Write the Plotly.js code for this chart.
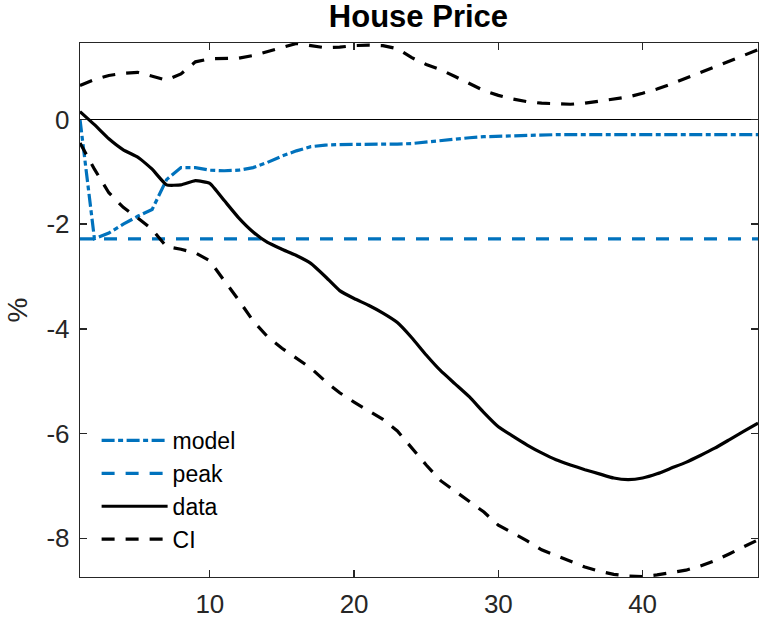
<!DOCTYPE html>
<html>
<head>
<meta charset="utf-8">
<script src="https://cdn.plot.ly/plotly-3.0.1.min.js"></script>
<style>
html,body{margin:0;padding:0;background:#fff;}
#chart{width:766px;height:624px;}
</style>
</head>
<body>
<div id="chart"></div>
<script>
// Horizon (quarters)
const horizon = [1,2,3,4,5,6,7,8,9,10,11,12,13,14,15,16,17,18,19,20,21,22,23,24,25,26,27,28,29,30,31,32,33,34,35,36,37,38,39,40,41,42,43,44,45,46,47,48];

// model impulse response
const modelVals = [0,-2.28,-2.17,-2.0,-1.85,-1.72,-1.15,-0.92,-0.92,-0.97,-0.98,-0.97,-0.92,-0.82,-0.7,-0.6,-0.52,-0.49,-0.48,-0.48,-0.47,-0.47,-0.47,-0.46,-0.43,-0.4,-0.37,-0.35,-0.33,-0.32,-0.31,-0.3,-0.3,-0.29,-0.29,-0.29,-0.29,-0.29,-0.29,-0.29,-0.29,-0.29,-0.29,-0.29,-0.29,-0.29,-0.29,-0.29];

// peak of the model response
const peakX = [1, 48];
const peakVals = [-2.28, -2.28];

// empirical response
const dataVals = [0.15,-0.1,-0.37,-0.58,-0.72,-0.95,-1.25,-1.25,-1.17,-1.22,-1.55,-1.88,-2.15,-2.35,-2.48,-2.6,-2.75,-3.0,-3.27,-3.42,-3.55,-3.7,-3.88,-4.17,-4.5,-4.8,-5.05,-5.3,-5.6,-5.87,-6.05,-6.22,-6.37,-6.5,-6.6,-6.69,-6.77,-6.85,-6.88,-6.85,-6.77,-6.66,-6.55,-6.42,-6.28,-6.12,-5.96,-5.8];

// confidence interval bounds
const ciUpper = [0.65,0.76,0.84,0.88,0.9,0.82,0.75,0.87,1.1,1.16,1.16,1.17,1.22,1.3,1.38,1.45,1.41,1.37,1.38,1.41,1.42,1.41,1.35,1.18,1.05,0.95,0.82,0.68,0.55,0.46,0.39,0.34,0.31,0.3,0.29,0.31,0.35,0.39,0.43,0.5,0.58,0.68,0.79,0.9,1.01,1.12,1.23,1.33];
const ciLower = [-0.45,-0.95,-1.4,-1.68,-1.88,-2.1,-2.43,-2.48,-2.55,-2.7,-3.08,-3.45,-3.85,-4.15,-4.37,-4.56,-4.75,-5.0,-5.22,-5.4,-5.56,-5.73,-5.95,-6.28,-6.6,-6.9,-7.1,-7.3,-7.5,-7.75,-7.9,-8.05,-8.22,-8.33,-8.44,-8.55,-8.63,-8.69,-8.72,-8.73,-8.7,-8.66,-8.61,-8.53,-8.43,-8.3,-8.16,-8.03];

// ticks
const xTickVals = [10,20,30,40];
const xTickText = ['10','20','30','40'];
const yTickVals = [0,-2,-4,-6,-8];
const yTickText = ['0','-2','-4','-6','-8'];

const blue = '#0072BD';
const dashPat = '13px,11px';
const dashDotPat = '13px,3.5px,5px,3.5px';
const lw = 3.2;

const traces = [
  {x: horizon, y: modelVals, name: 'model', type: 'scatter', mode: 'lines',
   line: {color: blue, width: lw, dash: dashDotPat}, legendgroup: 'a'},
  {x: peakX, y: peakVals, name: 'peak', type: 'scatter', mode: 'lines',
   line: {color: blue, width: lw, dash: dashPat}, legendgroup: 'b'},
  {x: horizon, y: dataVals, name: 'data', type: 'scatter', mode: 'lines',
   line: {color: '#000000', width: lw, shape: 'spline', smoothing: 0.4}, legendgroup: 'c'},
  {x: horizon, y: ciUpper, name: 'CI', type: 'scatter', mode: 'lines',
   line: {color: '#000000', width: lw, dash: dashPat}, legendgroup: 'd'},
  {x: horizon, y: ciLower, name: 'CI', type: 'scatter', mode: 'lines',
   line: {color: '#000000', width: lw, dash: dashPat}, legendgroup: 'd', showlegend: false}
];

const fontFam = 'Liberation Sans, Arial, sans-serif';

const axisCommon = {
  showline: true, linecolor: '#262626', linewidth: 1.3, mirror: 'ticks',
  ticks: 'inside', ticklen: 7, tickwidth: 1.3, tickcolor: '#262626',
  showgrid: false,
  tickfont: {family: fontFam, size: 26, color: '#262626'}
};

const layout = {
  width: 766, height: 624,
  margin: {l: 80, r: 8, t: 43, b: 47},
  paper_bgcolor: '#ffffff', plot_bgcolor: '#ffffff',
  title: {text: '<b>House Price</b>', x: 0.5463, xanchor: 'center', y: 0.974, yanchor: 'middle',
          font: {family: fontFam, size: 31, color: '#000000'}},
  xaxis: Object.assign({}, axisCommon, {
    range: [1, 48], tickvals: xTickVals, ticktext: xTickText, zeroline: false,
    ticklabelstandoff: 3
  }),
  yaxis: Object.assign({}, axisCommon, {
    range: [-8.74, 1.46], tickvals: yTickVals, ticktext: yTickText,
    zeroline: true, zerolinecolor: '#000000', zerolinewidth: 1.4,
    ticklabelstandoff: 4,
    title: {text: '%', standoff: 10, font: {family: fontFam, size: 28, color: '#262626'}}
  }),
  showlegend: true,
  legend: {x: 0.0245, y: 0.03, xanchor: 'left', yanchor: 'bottom', bgcolor: 'rgba(0,0,0,0)',
           borderwidth: 0, itemwidth: 66, tracegroupgap: 0,
           font: {family: fontFam, size: 23, color: '#000000'}}
};

Plotly.newPlot('chart', traces, layout, {displayModeBar: false, staticPlot: true});
</script>
</body>
</html>
